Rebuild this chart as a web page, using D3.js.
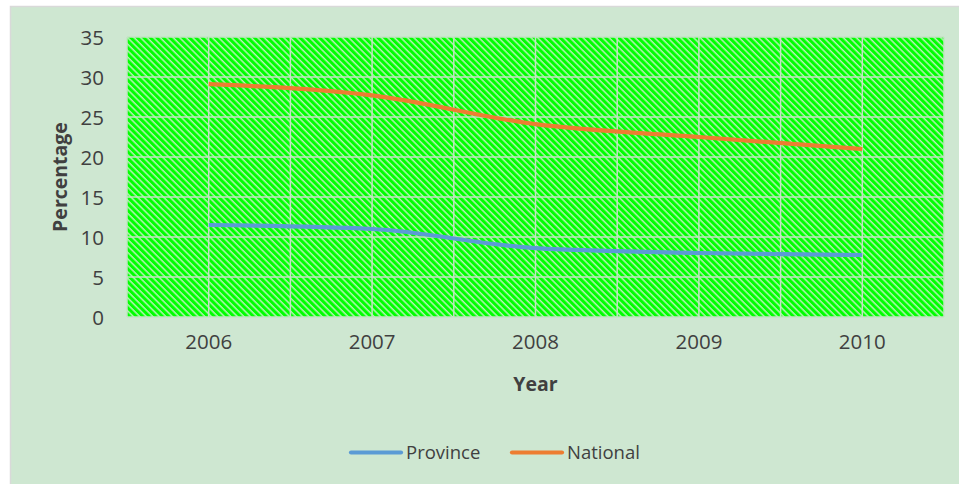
<!DOCTYPE html>
<html>
<head>
<meta charset="utf-8">
<script src="https://cdn.jsdelivr.net/npm/d3@7"></script>
<style>
  html, body { margin: 0; padding: 0; background: #ffffff; }
  svg { display: block; }
  text { font-family: "Open Sans", Lato, sans-serif; fill: #404040; }
</style>
</head>
<body>
<script>
const years = ["2006", "2007", "2008", "2009", "2010"];
const province = [11.5, 11.0, 8.6, 8.0, 7.75];
const national = [29.1, 27.7, 24.1, 22.5, 21.0];
const yTicks = [0, 5, 10, 15, 20, 25, 30, 35];
const seriesNames = ["Province", "National"];
const seriesColors = ["#5b9bd5", "#ed7d31"];

const W = 959, H = 484;
const svg = d3.select("body").append("svg").attr("width", W).attr("height", H);

// outer chart area
svg.append("rect").attr("x", 10.5).attr("y", 6.5).attr("width", W).attr("height", H)
  .attr("fill", "#cee7d1").attr("stroke", "#d9d9d9").attr("stroke-width", 1.5);

const plot = { left: 127, right: 944, top: 37, bottom: 317 };

const defs = svg.append("defs");
const pat = defs.append("pattern").attr("id", "hatch")
  .attr("patternUnits", "userSpaceOnUse").attr("width", 4.6).attr("height", 4.6)
  .attr("patternTransform", "rotate(45)");
pat.append("rect").attr("width", 4.6).attr("height", 4.6).attr("fill", "#00ff00");
pat.append("rect").attr("x", 0).attr("y", 0).attr("width", 4.6).attr("height", 1.5).attr("fill", "#b8f0b8");

const x = d3.scaleBand().domain(years).range([plot.left, plot.right]);
const y = d3.scaleLinear().domain([0, 35]).range([plot.bottom, plot.top]);

svg.append("rect").attr("x", plot.left).attr("y", plot.top)
  .attr("width", plot.right - plot.left).attr("height", plot.bottom - plot.top)
  .attr("fill", "url(#hatch)");

// gridlines
const gridColor = "#c3e3c3";
svg.append("g").selectAll("line").data(yTicks).join("line")
  .attr("x1", plot.left).attr("x2", plot.right)
  .attr("y1", d => y(d)).attr("y2", d => y(d))
  .attr("stroke", gridColor).attr("stroke-width", 1.5);
const vPos = [];
years.forEach(yr => { vPos.push(x(yr)); vPos.push(x(yr) + x.bandwidth() / 2); });
vPos.push(plot.right);
svg.append("g").selectAll("line").data(vPos).join("line")
  .attr("x1", d => d).attr("x2", d => d)
  .attr("y1", plot.top).attr("y2", plot.bottom)
  .attr("stroke", gridColor).attr("stroke-width", 1.5);

// y axis labels
const yAxis = d3.axisLeft(y).tickValues(yTicks).tickSize(0).tickPadding(0);
const gy = svg.append("g").attr("transform", `translate(${plot.left - 23},0)`).call(yAxis);
gy.select(".domain").remove();
gy.selectAll("text").style("font-size", "20.5px").attr("fill", "#404040").attr("dy", "0.35em");

// x axis labels
const xAxis = d3.axisBottom(x).tickSize(0).tickPadding(0);
const gx = svg.append("g").attr("transform", `translate(0,${plot.bottom + 17})`).call(xAxis);
gx.select(".domain").remove();
gx.selectAll("text").style("font-size", "20.5px").attr("fill", "#404040").attr("dy", "0.71em");

// axis titles
svg.append("text").attr("x", (plot.left + plot.right) / 2).attr("y", 391)
  .attr("text-anchor", "middle").style("font-size", "19.5px").style("font-weight", "bold").text("Year");
svg.append("text").attr("transform", `translate(67,${(plot.top + plot.bottom) / 2}) rotate(-90)`)
  .attr("text-anchor", "middle").style("font-size", "19.5px").style("font-weight", "bold").text("Percentage");

// lines
const line = d3.line()
  .x((d, i) => x(years[i]) + x.bandwidth() / 2)
  .y(d => y(d))
  .curve(d3.curveMonotoneX);
[province, national].forEach((s, i) => {
  svg.append("path").datum(s).attr("d", line)
    .attr("fill", "none").attr("stroke", seriesColors[i]).attr("stroke-width", 4.2)
    .attr("stroke-linecap", "butt");
});

// legend
const legendItems = [{ x: 349, name: seriesNames[0], color: seriesColors[0] },
                     { x: 510, name: seriesNames[1], color: seriesColors[1] }];
const lg = svg.append("g");
legendItems.forEach(it => {
  lg.append("line").attr("x1", it.x + 2).attr("x2", it.x + 52).attr("y1", 452.5).attr("y2", 452.5)
    .attr("stroke", it.color).attr("stroke-width", 4.2).attr("stroke-linecap", "round");
  lg.append("text").attr("x", it.x + 57).attr("y", 452.5).attr("dy", "0.35em")
    .style("font-size", "18.5px").text(it.name);
});
</script>
</body>
</html>
